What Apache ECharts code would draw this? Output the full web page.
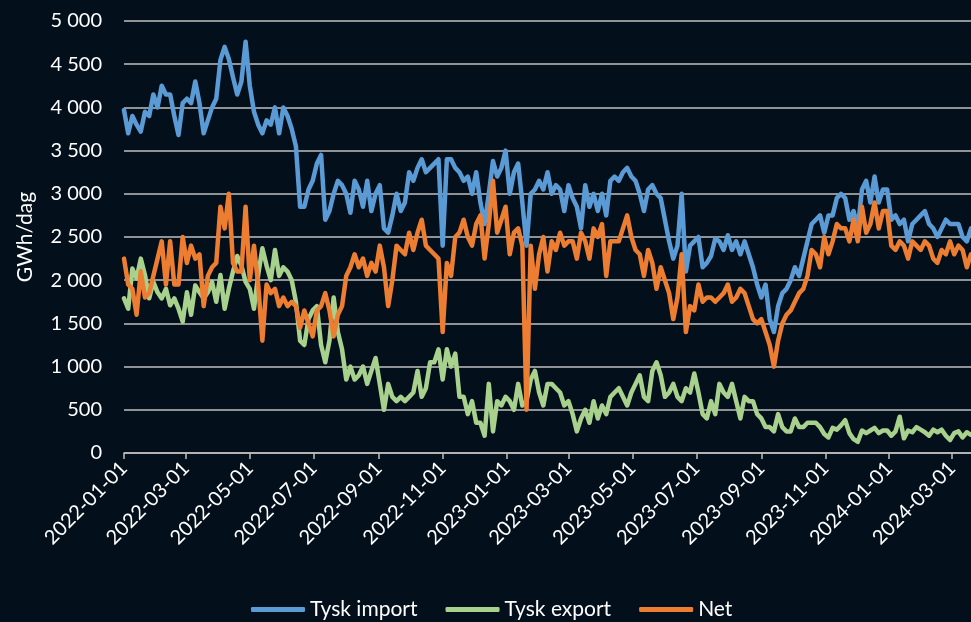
<!DOCTYPE html>
<html>
<head>
<meta charset="utf-8">
<script src="https://cdn.jsdelivr.net/npm/echarts@6/dist/echarts.min.js"></script>
<style>
  html, body { margin: 0; padding: 0; background: #03101c; }
  #chart { width: 971px; height: 622px; }
</style>
</head>
<body>
<div id="chart"></div>
<script>
// sampled every 4 days starting 2022-01-01 (GWh/dag)
var START = '2022-01-01'
var STEP = 4
var DAY_COUNT = 809

var importVals = [
  3970, 3700, 3900, 3800, 3720, 3950, 3900, 4150, 4000, 4250, 4150, 4150, 3900, 3680, 4050, 4100, 4050, 4300, 4050, 3700,
  3850, 4000, 4100, 4550, 4700, 4560, 4350, 4150, 4300, 4760, 4250, 3950, 3800, 3700, 3850,
  3800, 4000, 3700, 4000, 3900, 3750, 3550, 2850, 2850, 3050, 3150, 3350, 3450, 2700, 2800, 3000, 3150, 3100, 3000, 2780,
  3150, 3050, 2850, 3150, 2800, 3000, 3100, 2600, 2550, 2750, 3000, 2800, 2900, 3250, 3150,
  3300, 3400, 3250, 3300, 3350, 3400, 2400, 3400, 3400, 3300, 3250, 3150, 3200, 3000, 3250, 2900, 2650, 3000, 3380, 3200,
  3300, 3500, 3000, 3250, 3350, 2900, 2400, 3000, 3050, 3150, 3050, 3250, 3000,
  3100, 3050, 2800, 3100, 2950, 2850, 2600, 3100, 2850, 3000, 2800, 3000, 2750, 3150, 3200, 3150, 3250, 3300, 3200, 3150,
  3000, 2800, 3050, 3100, 3000, 2950, 2700, 2450, 2250, 2400, 3000, 2100, 2400, 2450,
  2500, 2150, 2200, 2280, 2480, 2450, 2350, 2520, 2350, 2450, 2300, 2450, 2300, 2150, 1950, 1800, 1950, 1550, 1400, 1700,
  1850, 1900, 2000, 2150, 2050, 2250, 2450, 2650, 2700, 2750, 2550, 2750, 2750, 2950,
  3000, 2950, 2700, 2800, 2600, 3050, 3150, 2900, 3200, 2900, 3050, 3050, 2700, 2750, 2650, 2700, 2450, 2650, 2700, 2750,
  2800, 2650, 2600, 2500, 2600, 2700, 2650, 2650, 2650, 2500, 2450, 2600
]

var exportVals = [
  1790, 1670, 2135, 2020, 2250, 2060, 1790, 1980, 1860, 1790, 1900, 1710, 1790, 1670, 1520, 1860, 1600, 1940, 1860, 1790,
  1860, 1980, 1750, 2060, 1670, 1900, 2100, 2280, 2170, 1980, 1900, 1670, 2060, 2370, 2170,
  2000, 2350, 2050, 2150, 2100, 2000, 1750, 1300, 1250, 1550, 1650, 1700, 1250, 1050, 1300, 1800, 1400, 1200, 850, 1000,
  850, 900, 1000, 800, 950, 1100, 800, 500, 800, 650, 600, 650, 600, 650, 700,
  950, 650, 750, 1050, 1050, 1200, 850, 1200, 1000, 1150, 650, 650, 450, 600, 350, 350, 200, 800, 250, 600,
  550, 650, 600, 500, 800, 550, 600, 850, 950, 700, 550, 800, 800,
  750, 700, 550, 600, 450, 250, 400, 500, 350, 600, 400, 550, 450, 650, 700, 750, 650, 550, 700, 800,
  900, 650, 600, 950, 1050, 900, 650, 700, 800, 650, 600, 750, 700, 920,
  700, 450, 400, 600, 450, 800, 700, 650, 800, 600, 400, 650, 600, 600, 450, 400, 300, 300, 250, 450,
  300, 250, 250, 400, 300, 300, 350, 350, 350, 300, 220, 180, 290, 270,
  320, 380, 230, 160, 130, 260, 230, 260, 290, 230, 260, 260, 200, 250, 420, 170, 260, 240, 300, 270,
  240, 200, 270, 240, 270, 200, 150, 230, 250, 180, 240, 210
]

var netVals = [
  2250, 1950, 1900, 1600, 2100, 1800, 1850, 2050, 2250, 2450, 1950, 2450, 1950, 1950, 2500, 2200, 2400, 2250, 2300, 1700,
  2050, 2150, 2200, 2850, 2600, 3000, 2200, 2100, 2100, 2850, 2000, 2400, 1950, 1300, 1950,
  1850, 1900, 1700, 1800, 1700, 1750, 1700, 1450, 1650, 1500, 1350, 1650, 1700, 1850, 1650, 1350, 1600, 1700, 2050, 2150,
  2300, 2150, 2250, 2050, 2200, 2100, 2400, 2150, 1700, 2000, 2400, 2350, 2300, 2550, 2350,
  2550, 2700, 2400, 2350, 2300, 2250, 1400, 2200, 2050, 2500, 2550, 2700, 2500, 2400, 2650, 2750, 2250, 2650, 3150, 2550,
  2700, 2850, 2300, 2550, 2600, 2400, 500, 2400, 1900, 2300, 2500, 2100, 2450,
  2350, 2550, 2400, 2450, 2450, 2250, 2550, 2450, 2250, 2600, 2500, 2650, 2050, 2450, 2450, 2450, 2600, 2750, 2500, 2350,
  2300, 2050, 2350, 2200, 1900, 2150, 2000, 1850, 1550, 1800, 2300, 1400, 1700, 1650,
  1950, 1750, 1800, 1800, 1750, 1800, 1850, 1950, 1750, 1800, 1900, 1850, 1700, 1550, 1500, 1550, 1400, 1250, 1000, 1300,
  1500, 1600, 1650, 1750, 1850, 1900, 2050, 2350, 2300, 2150, 2500, 2300, 2450, 2650,
  2600, 2600, 2450, 2700, 2450, 2850, 2550, 2650, 2900, 2600, 2800, 2800, 2400, 2350, 2450, 2400, 2250, 2450, 2400, 2350,
  2450, 2400, 2250, 2200, 2350, 2300, 2450, 2300, 2400, 2350, 2150, 2300
]

var seriesNames = ['Tysk import', 'Tysk export', 'Net']
var seriesColors = ['#5b9bd5', '#a9d18e', '#ed7d31']

// daily category labels
var days = []
var t0 = new Date(START + 'T00:00:00Z').getTime()
for (var d = 0; d < DAY_COUNT; d++) {
  days.push(new Date(t0 + d * 86400000).toISOString().slice(0, 10))
}

function toPoints(vals) {
  return vals.map(function(v, i) { return [i * STEP, v] })
}

// label every second month, on the 1st
function everyOtherMonth(idx, val) {
  return val.slice(8) === '01' && (+val.slice(5, 7)) % 2 === 1
}

function fmtThousands(v) {
  return String(v).replace(/\B(?=(\d{3})+(?!\d))/g, ' ')
}

var chart = echarts.init(document.getElementById('chart'))
var FONT = 'Lato'

chart.setOption({
  backgroundColor: '#03101c',
  animation: false,
  textStyle: { fontFamily: FONT },
  grid: { left: 124, right: 0, top: 21, bottom: 169 },
  legend: {
    top: 594,
    left: 246,
    icon: 'roundRect',
    itemWidth: 54,
    itemHeight: 5,
    itemGap: 28,
    textStyle: { color: '#ffffff', fontSize: 21, fontFamily: FONT },
    data: seriesNames
  },
  xAxis: {
    type: 'category',
    data: days,
    boundaryGap: false,
    axisLine: { lineStyle: { color: '#bfbfbf', width: 1.5 } },
    axisTick: { interval: everyOtherMonth, length: 6, lineStyle: { color: '#bfbfbf', width: 1.5 } },
    axisLabel: {
      interval: everyOtherMonth,
      rotate: 45,
      margin: 12,
      color: '#ffffff',
      fontSize: 20,
      fontFamily: FONT
    },
    splitLine: { show: false }
  },
  yAxis: {
    type: 'value',
    min: 0,
    max: 5000,
    interval: 500,
    name: 'GWh/dag',
    nameLocation: 'middle',
    nameGap: 88,
    nameTextStyle: { color: '#ffffff', fontSize: 21, fontFamily: FONT },
    axisLine: { show: false },
    axisTick: { show: false },
    axisLabel: {
      color: '#ffffff',
      fontSize: 20,
      fontFamily: FONT,
      margin: 22,
      formatter: fmtThousands
    },
    splitLine: { lineStyle: { color: '#bfbfbf', width: 1.5 } }
  },
  series: [importVals, exportVals, netVals].map(function(vals, k) {
    return {
      name: seriesNames[k],
      type: 'line',
      data: toPoints(vals),
      showSymbol: false,
      symbol: 'none',
      color: seriesColors[k],
      lineStyle: { width: 4.5, color: seriesColors[k], cap: 'round', join: 'round' }
    }
  })
})
</script>
</body>
</html>
